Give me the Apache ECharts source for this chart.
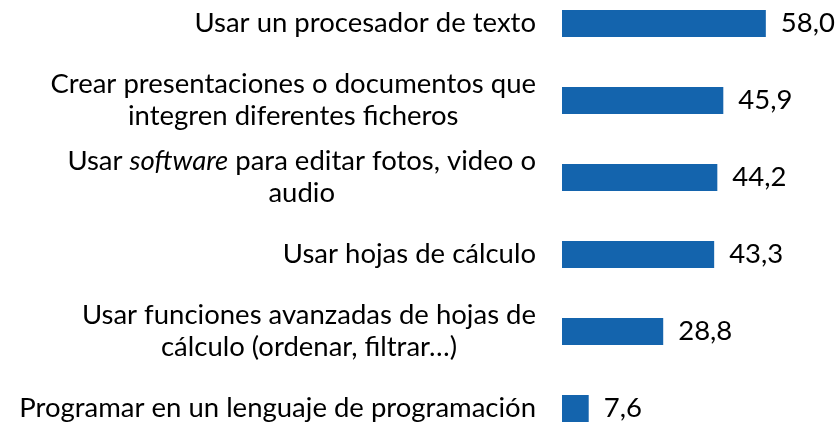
<!DOCTYPE html>
<html lang="es">
<head>
	<meta charset="UTF-8">
	<title>Uso de programas</title>
	<style>
		html, body { margin: 0; padding: 0; background: #fff; overflow: hidden; }
		body { width: 838px; height: 422px; position: relative; }
		/* el grafico original queda recortado arriba y abajo */
		#chart { position: absolute; left: 0; top: -15px; width: 838px; height: 462px; }
	</style>
</head>
<body>
	<div id="chart"></div>
	<script src="https://cdn.jsdelivr.net/npm/echarts@6/dist/echarts.min.js"></script>
	<script>
		// categorias (de arriba a abajo)
		var categorias = [
			'Usar un procesador de texto',
			'Crear presentaciones o documentos que\nintegren diferentes ficheros',
			'Usar software para editar fotos, video o\naudio',
			'Usar hojas de cálculo',
			'Usar funciones avanzadas de hojas de\ncálculo (ordenar, filtrar…)',
			'Programar en un lenguaje de programación'
		];
		var valores = [58.0, 45.9, 44.2, 43.3, 28.8, 7.6];

		var fuente = 'Lato';
		var tam = 27.5;

		// cada linea centrada dentro del bloque, "software" en cursiva
		function etiqueta(txt) {
			return txt.split('\n').map(function (linea) {
				var partes = linea.split('software');
				var out = '{c|' + partes[0] + '}';
				for (var i = 1; i < partes.length; i++) {
					out += '{ci|software}{c|' + partes[i] + '}';
				}
				return out.replace(/\{c\|\}/g, '');
			}).join('\n');
		}

		var myChart = echarts.init(document.getElementById('chart'));
		var option = {
			animation: false,
			grid: {
				left: 562,
				right: 30,
				top: 0,
				bottom: 0
			},
			xAxis: {
				type: 'value',
				min: 0,
				max: 70,
				show: false
			},
			yAxis: {
				type: 'category',
				inverse: true,
				data: categorias,
				axisLine: { show: false },
				axisTick: { show: false },
				axisLabel: {
					margin: 26,
					align: 'right',
					formatter: etiqueta,
					rich: {
						c: { align: 'center', fontFamily: fuente, fontSize: tam, color: '#000', lineHeight: 32 },
						ci: { align: 'center', fontFamily: fuente, fontSize: tam, color: '#000', lineHeight: 32, fontStyle: 'italic' }
					}
				}
			},
			series: [{
				type: 'bar',
				data: valores,
				barWidth: 27,
				itemStyle: { color: '#1464ad' },
				label: {
					show: true,
					position: 'right',
					distance: 15,
					fontFamily: fuente,
					fontSize: tam,
					color: '#000',
					formatter: function (p) {
						return p.value.toFixed(1).replace('.', ',');
					}
				}
			}]
		};
		myChart.setOption(option);
	</script>
</body>
</html>
